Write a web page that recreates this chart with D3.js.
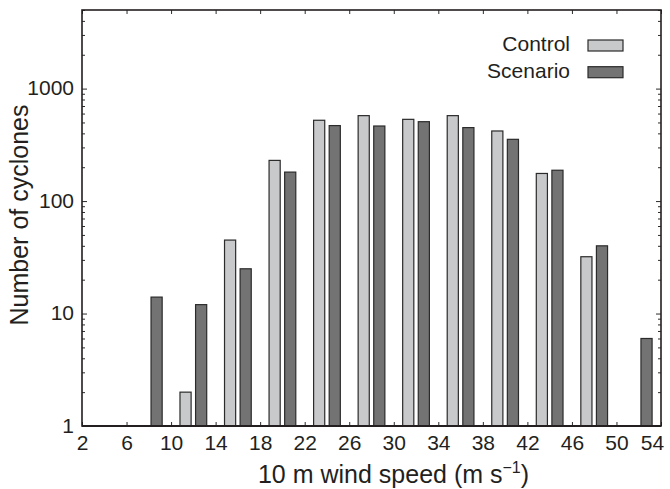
<!DOCTYPE html>
<html>
<head>
<meta charset="utf-8">
<script src="https://cdn.jsdelivr.net/npm/d3@7"></script>
<style>
  html, body { margin: 0; padding: 0; background: #fff; }
  svg { display: block; }
  text { font-family: "Liberation Sans", Arial, Helvetica, sans-serif; fill: #231f20; }
</style>
</head>
<body>
<svg id="chart" width="670" height="489"></svg>
<script>
// ---- data ----
const bins = [4, 8, 12, 16, 20, 24, 28, 32, 36, 40, 44, 48, 52];
const control  = [0, 0, 2, 45, 230, 523, 575, 533, 575, 420, 176, 32, 0];
const scenario = [0, 14, 12, 25, 181, 469, 465, 508, 450, 354, 188, 40, 6];
const seriesNames = ["Control", "Scenario"];
const xTicks = [2, 6, 10, 14, 18, 22, 26, 30, 34, 38, 42, 46, 50, 54];
const yTicks = [1, 10, 100, 1000];

const colors = ["#c8c9cb", "#737374"];
const edge = "#2b2b2b";

const svg = d3.select("#chart");
const L = 82, R = 661, T = 10, B = 426;

const x = d3.scaleLinear().domain([2, 54]).range([L, R]);
const y = d3.scaleLog().domain([1, 5000]).range([B, T]);

// minor log ticks
const minor = [];
for (let d = 1; d < 10000; d *= 10) {
  for (let k = 2; k <= 9; k++) { const v = d * k; if (v <= 5000) minor.push(v); }
}

// bars
const offsets = [[-1.2, -0.2], [0.2, 1.2]];
[control, scenario].forEach((vals, si) => {
  svg.append("g").selectAll("rect")
    .data(bins.map((b, i) => ({ b, v: vals[i] })).filter(d => d.v > 0))
    .join("rect")
    .attr("x", d => x(d.b + offsets[si][0]))
    .attr("width", d => x(d.b + offsets[si][1]) - x(d.b + offsets[si][0]))
    .attr("y", d => y(d.v))
    .attr("height", d => B - y(d.v))
    .attr("fill", colors[si])
    .attr("stroke", edge)
    .attr("stroke-width", 1.2);
});

// axes (ticks inward)
const fontSize = "21px";
const gx = svg.append("g").attr("transform", `translate(0,${B})`)
  .call(d3.axisBottom(x).tickValues(xTicks).tickSizeInner(-4).tickSizeOuter(0).tickPadding(9).tickFormat(d3.format("d")));
gx.select(".domain").remove();
gx.selectAll("text").style("font-size", fontSize).attr("fill", "#231f20");
gx.selectAll(".tick").filter(d => d === 54).select("text").attr("dx", -9);
gx.selectAll("line").attr("stroke", edge);

const gxt = svg.append("g").attr("transform", `translate(0,${T})`)
  .call(d3.axisTop(x).tickValues(xTicks).tickSizeInner(-4).tickSizeOuter(0).tickFormat(""));
gxt.select(".domain").remove();
gxt.selectAll("line").attr("stroke", edge);

const gy = svg.append("g").attr("transform", `translate(${L},0)`)
  .call(d3.axisLeft(y).tickValues(yTicks).tickSizeInner(-5).tickSizeOuter(0).tickPadding(8).tickFormat(d3.format("d")));
gy.select(".domain").remove();
gy.selectAll("text").style("font-size", fontSize).attr("fill", "#231f20").attr("dy", "0.3em");
gy.selectAll("line").attr("stroke", edge);

const gym = svg.append("g").attr("transform", `translate(${L},0)`)
  .call(d3.axisLeft(y).tickValues(minor).tickSizeInner(-3).tickSizeOuter(0).tickFormat(""));
gym.select(".domain").remove();
gym.selectAll("line").attr("stroke", edge);

const gyr = svg.append("g").attr("transform", `translate(${R},0)`)
  .call(d3.axisRight(y).tickValues(yTicks).tickSizeInner(-5).tickSizeOuter(0).tickFormat(""));
gyr.select(".domain").remove();
gyr.selectAll("line").attr("stroke", edge);
const gyrm = svg.append("g").attr("transform", `translate(${R},0)`)
  .call(d3.axisRight(y).tickValues(minor).tickSizeInner(-3).tickSizeOuter(0).tickFormat(""));
gyrm.select(".domain").remove();
gyrm.selectAll("line").attr("stroke", edge);

// frame
svg.append("rect").attr("x", L).attr("y", T).attr("width", R - L).attr("height", B - T)
  .attr("fill", "none").attr("stroke", "#231f20").attr("stroke-width", 1.6);
svg.append("line").attr("x1", L).attr("x2", R).attr("y1", B).attr("y2", B)
  .attr("stroke", "#231f20").attr("stroke-width", 2.2);

// axis titles
const xt = svg.append("text").attr("x", (L + R) / 2 + 22).attr("y", 483)
  .attr("text-anchor", "middle").style("font-size", "25px");
xt.append("tspan").text("10 m wind speed (m s");
xt.append("tspan").text("\u22121").attr("dy", -10).style("font-size", "16px");
xt.append("tspan").text(")").attr("dy", 10);

svg.append("text").attr("transform", `translate(28,${215}) rotate(-90)`)
  .attr("text-anchor", "middle").style("font-size", "25px").text("Number of cyclones");

// legend
const lg = svg.append("g");
seriesNames.forEach((name, i) => {
  const yy = 40 + i * 26.7;
  lg.append("rect").attr("x", 588).attr("y", yy).attr("width", 35).attr("height", 11)
    .attr("fill", colors[i]).attr("stroke", edge).attr("stroke-width", 1.2);
  lg.append("text").attr("x", 570).attr("y", yy + 11).attr("text-anchor", "end")
    .style("font-size", "21px").text(name);
});
</script>
</body>
</html>
